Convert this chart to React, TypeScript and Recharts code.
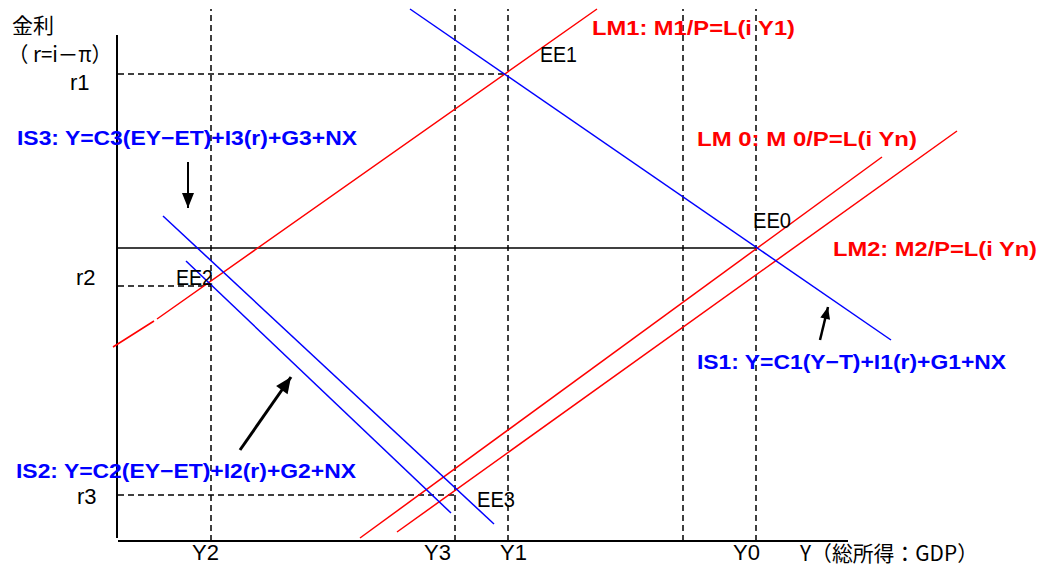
import React from 'react';
import { ComposedChart, Line, Scatter, XAxis, YAxis, ReferenceLine } from 'recharts';

// Diagram units: Y (income) to the right of the origin, r (real rate) upward.
const W = 1038;
const H = 569;
const X_DOMAIN = [-118, 920];
const R_DOMAIN = [-28, 541];

// Income levels marked by dashed verticals (the fourth one is unlabelled)
const incomeLevels = [93, 337, 390, 565, 638];
const incomeTop = 532;

// Rate levels r1, r2, r3 with the income where each dashed guide stops
const rateLevels = [467, 255, 46];
const rateStops = [390, 93, 337];

// Initial equilibrium rate line, drawn from the axis to Y0
const eeRate = 293;
const eeStop = 638;

// LM curves
const lm0 = [{ x: 242, r: 3 }, { x: 764, r: 384 }];
const lm1 = [
  { x: -5, r: 194 },
  { x: 36, r: 220 },
  { x: 37.5, r: null },
  { x: 39, r: 222 },
  { x: 479, r: 532 },
];
const lm2 = [{ x: 279, r: 9 }, { x: 839, r: 410 }];

// IS curves
const is1 = [{ x: 292, r: 532 }, { x: 773, r: 201 }];
const isUpper = [{ x: 45, r: 325 }, { x: 376, r: 17 }];
const isLower = [{ x: 68, r: 280 }, { x: 333, r: 28 }];

// Shift arrows: tail, then tip
const arrows = [
  [{ x: 70, r: 379 }, { x: 70, r: 333 }],
  [{ x: 122, r: 91 }, { x: 173, r: 164 }],
  [{ x: 702, r: 201 }, { x: 710, r: 234 }],
];
const arrowStyle = [
  { width: 2, len: 15, half: 6 },
  { width: 3, len: 16, half: 7 },
  { width: 2.5, len: 12, half: 5 },
];

// Plain annotations (left edge, vertical centre)
const notes = [
  { text: '金利', x: -106, r: 517 },
  { text: '（ r=i－π）', x: -110, r: 488 },
  { text: 'r1', x: -48, r: 459 },
  { text: 'r2', x: -42, r: 264 },
  { text: 'r3', x: -41, r: 45 },
  { text: 'EE1', x: 422, r: 487 },
  { text: 'EE0', x: 635, r: 321 },
  { text: 'EE2', x: 58, r: 264 },
  { text: 'EE3', x: 359, r: 42 },
  { text: 'Y2', x: 74, r: -11 },
  { text: 'Y3', x: 306, r: -11 },
  { text: 'Y1', x: 382, r: -11 },
  { text: 'Y0', x: 615, r: -11 },
  { text: 'Y（総所得：GDP）', x: 682, r: -11 },
];
const noteWidths: Record<string, number> = {
  '（ r=i－π）': 104,
  'Y（総所得：GDP）': 178,
  EE1: 37,
  EE0: 38,
  EE2: 37,
  EE3: 38,
};

// Curve equations
const equations = [
  { text: 'LM1: M1/P=L(i Y1)', x: 474, r: 514, kind: 'lm' },
  { text: 'LM 0: M 0/P=L(i Yn)', x: 579, r: 403, kind: 'lm' },
  { text: 'LM2: M2/P=L(i Yn)', x: 715, r: 293, kind: 'lm' },
  { text: 'IS1: Y=C1(Y−T)+I1(r)+G1+NX', x: 579, r: 180, kind: 'is' },
  { text: 'IS3: Y=C3(EY−ET)+I3(r)+G3+NX', x: -101, r: 404, kind: 'is' },
  { text: 'IS2: Y=C2(EY−ET)+I2(r)+G2+NX', x: -102, r: 71, kind: 'is' },
];
const equationWidths = [203, 220, 204, 309, 340, 340];

const RED = '#ff0000';
const BLUE = '#0000ff';
const CJK_FONT = "'Noto Sans CJK JP', 'Noto Sans', sans-serif";
const LATIN_FONT = "'Liberation Sans', Arial, sans-serif";

const hasCjk = (s: string) => /[^\x00-\x7f]/.test(s);

const noteShape = (props: any) => {
  const { cx, cy, payload } = props;
  const len = noteWidths[payload.text];
  const cjk = hasCjk(payload.text);
  return (
    <text
      x={cx}
      y={cy}
      dominantBaseline="central"
      fontSize={payload.text === '金利' ? 21 : cjk ? 21 : 22}
      fill="#000"
      fontFamily={cjk ? CJK_FONT : LATIN_FONT}
      textLength={len}
      lengthAdjust={len ? 'spacingAndGlyphs' : undefined}
    >
      {payload.text}
    </text>
  );
};

const equationShape = (props: any) => {
  const { cx, cy, payload, index } = props;
  return (
    <text
      x={cx}
      y={cy}
      dominantBaseline="central"
      fontSize={21}
      fontWeight="bold"
      fill={payload.kind === 'lm' ? RED : BLUE}
      fontFamily={LATIN_FONT}
      textLength={equationWidths[index]}
      lengthAdjust="spacingAndGlyphs"
    >
      {payload.text}
    </text>
  );
};

// Arrowhead drawn at the tip point; the scales are 1px per unit on both axes
const arrowHead = (i: number) => (props: any) => {
  const { cx, cy, index } = props;
  if (index !== 1) return <g key={`a${i}-${index}`} />;
  const [a, b] = arrows[i];
  const ang = Math.atan2(-(b.r - a.r), b.x - a.x);
  const { len, half } = arrowStyle[i];
  const bx = cx - len * Math.cos(ang);
  const by = cy - len * Math.sin(ang);
  const px = -Math.sin(ang) * half;
  const py = Math.cos(ang) * half;
  return (
    <path
      key={`a${i}-${index}`}
      d={`M${cx},${cy}L${bx + px},${by + py}L${bx - px},${by - py}Z`}
      fill="#000"
    />
  );
};

const curve = (data: any[], color: string, key: string) => (
  <Line
    key={key}
    data={data}
    dataKey="r"
    type="linear"
    stroke={color}
    strokeWidth={1.5}
    dot={false}
    activeDot={false}
    connectNulls={false}
    isAnimationActive={false}
  />
);

export default function App() {
  return (
    <div style={{ position: 'absolute', left: 0, top: 0, width: W, height: H, background: '#fff' }}>
      <ComposedChart width={W} height={H} margin={{ top: 0, right: 0, bottom: 0, left: 0 }}>
        <XAxis dataKey="x" type="number" domain={X_DOMAIN} allowDataOverflow hide />
        <YAxis dataKey="r" type="number" domain={R_DOMAIN} allowDataOverflow hide />

        {incomeLevels.map((x, i) => (
          <ReferenceLine
            key={`v${i}`}
            segment={[{ x, y: 0 }, { x, y: incomeTop }]}
            stroke="#000"
            strokeWidth={1.5}
            strokeDasharray="6 4"
          />
        ))}
        {rateLevels.map((r, i) => (
          <ReferenceLine
            key={`h${i}`}
            segment={[{ x: 0, y: r }, { x: rateStops[i], y: r }]}
            stroke="#000"
            strokeWidth={1.5}
            strokeDasharray="6 4"
          />
        ))}
        <ReferenceLine segment={[{ x: -2, y: eeRate }, { x: eeStop, y: eeRate }]} stroke="#000" strokeWidth={1.5} />

        {/* axes */}
        <ReferenceLine segment={[{ x: -1, y: 3 }, { x: -1, y: 506 }]} stroke="#000" strokeWidth={2} />
        <ReferenceLine segment={[{ x: 0, y: 0 }, { x: 730, y: 0 }]} stroke="#000" strokeWidth={2} />

        {curve(lm1, RED, 'lm1')}
        {curve(lm0, RED, 'lm0')}
        {curve(lm2, RED, 'lm2')}
        {curve(is1, BLUE, 'is1')}
        {curve(isUpper, BLUE, 'isUpper')}
        {curve(isLower, BLUE, 'isLower')}

        {arrows.map((seg, i) => (
          <Line
            key={`arrow${i}`}
            data={seg}
            dataKey="r"
            type="linear"
            stroke="#000"
            strokeWidth={arrowStyle[i].width}
            dot={arrowHead(i)}
            activeDot={false}
            isAnimationActive={false}
          />
        ))}

        <Scatter data={notes} dataKey="r" shape={noteShape} isAnimationActive={false} />
        <Scatter data={equations} dataKey="r" shape={equationShape} isAnimationActive={false} />
      </ComposedChart>
    </div>
  );
}
